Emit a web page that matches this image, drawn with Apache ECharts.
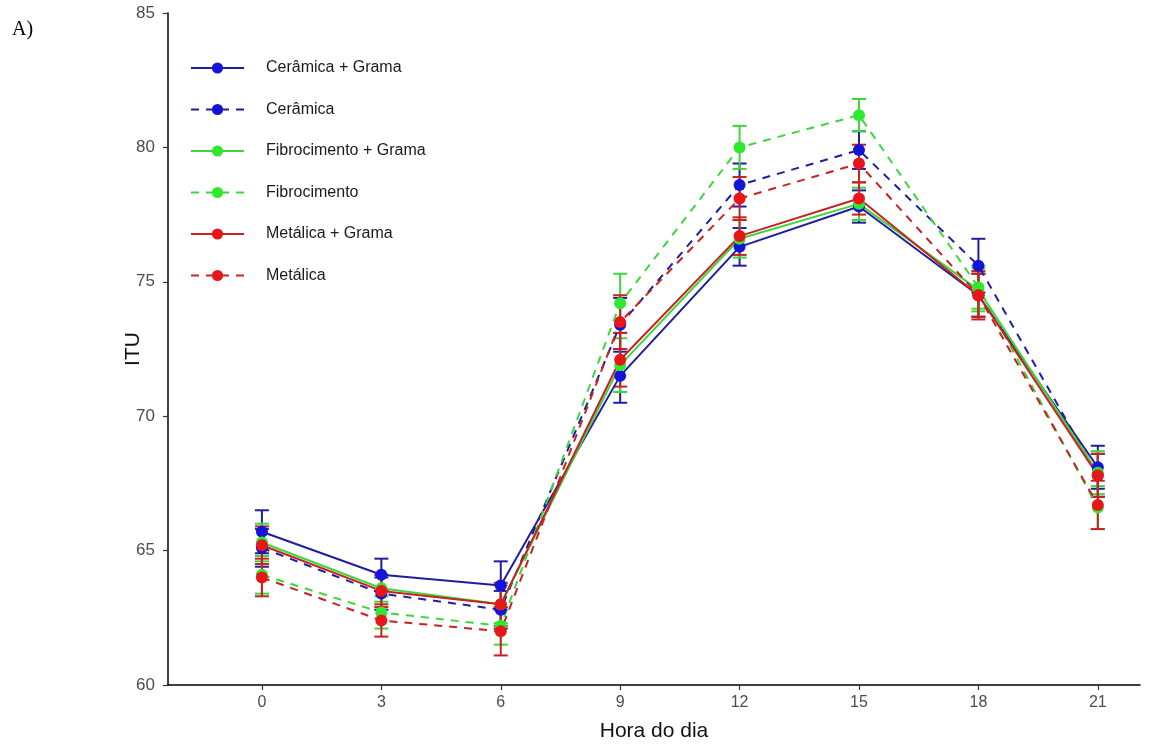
<!DOCTYPE html>
<html>
<head>
<meta charset="utf-8">
<script src="https://cdn.jsdelivr.net/npm/echarts@6/dist/echarts.min.js"></script>
<style>
html,body{margin:0;padding:0;background:#fff;}
#chart{width:1158px;height:747px;}
</style>
</head>
<body>
<div id="chart"></div>
<script>
const hours = [0, 3, 6, 9, 12, 15, 18, 21];
const xTicks = [0, 3, 6, 9, 12, 15, 18, 21];
const yTicks = [60, 65, 70, 75, 80, 85];

const names = ['Cerâmica + Grama', 'Cerâmica', 'Fibrocimento + Grama', 'Fibrocimento', 'Metálica + Grama', 'Metálica'];

const ceramicaGrama = [65.7, 64.1, 63.7, 71.5, 76.3, 77.8, 74.5, 68.1];
const ceramica      = [65.1, 63.4, 62.8, 73.4, 78.6, 79.9, 75.6, 67.8];
const fibroGrama    = [65.3, 63.6, 63.0, 71.9, 76.6, 77.9, 74.7, 67.9];
const fibro         = [64.1, 62.7, 62.2, 74.2, 80.0, 81.2, 74.8, 66.6];
const metalGrama    = [65.2, 63.5, 63.0, 72.1, 76.7, 78.1, 74.5, 67.8];
const metal         = [64.0, 62.4, 62.0, 73.5, 78.1, 79.4, 74.5, 66.7];

const errCeramicaGrama = [0.8, 0.6, 0.9, 1.0, 0.7, 0.6, 0.8, 0.8];
const errCeramica      = [0.7, 0.6, 0.7, 1.0, 0.8, 0.7, 1.0, 0.8];
const errFibroGrama    = [0.7, 0.5, 0.7, 1.0, 0.7, 0.6, 0.8, 0.8];
const errFibro         = [0.7, 0.6, 0.7, 1.1, 0.8, 0.6, 0.8, 0.8];
const errMetalGrama    = [0.7, 0.6, 0.8, 1.0, 0.7, 0.6, 0.8, 0.8];
const errMetal         = [0.7, 0.6, 0.9, 1.0, 0.8, 0.7, 0.9, 0.9];

const values = [ceramicaGrama, ceramica, fibroGrama, fibro, metalGrama, metal];
const errors = [errCeramicaGrama, errCeramica, errFibroGrama, errFibro, errMetalGrama, errMetal];
const lineColors = ['#1e1e9e', '#1e1e9e', '#3dd63d', '#3dd63d', '#c62222', '#c62222'];
const markColors = ['#1414d8', '#1414d8', '#2fe82f', '#2fe82f', '#e81616', '#e81616'];
const dashed = [false, true, false, true, false, true];

const chart = echarts.init(document.getElementById('chart'));
const series = [];
names.forEach((name, i) => {
  series.push({
    type: 'custom',
    name: name + '_err',
    data: hours.map((h, k) => [h, values[i][k] - errors[i][k], values[i][k] + errors[i][k]]),
    encode: {x: 0, y: [1, 2]},
    z: 2,
    silent: true,
    renderItem: function (params, api) {
      const x = api.value(0);
      const lo = api.coord([x, api.value(1)]);
      const hi = api.coord([x, api.value(2)]);
      const w = 7;
      const st = {stroke: lineColors[i], lineWidth: 2, fill: null};
      return {
        type: 'group',
        children: [
          {type: 'line', shape: {x1: lo[0], y1: lo[1], x2: hi[0], y2: hi[1]}, style: st},
          {type: 'line', shape: {x1: lo[0] - w, y1: lo[1], x2: lo[0] + w, y2: lo[1]}, style: st},
          {type: 'line', shape: {x1: hi[0] - w, y1: hi[1], x2: hi[0] + w, y2: hi[1]}, style: st}
        ]
      };
    }
  });
  series.push({
    type: 'line',
    name: name,
    data: hours.map((h, k) => [h, values[i][k]]),
    symbol: 'circle',
    symbolSize: 12,
    z: 3,
    lineStyle: {color: lineColors[i], width: 2, type: dashed[i] ? [8, 7] : 'solid'},
    itemStyle: {color: markColors[i], borderWidth: 0},
    emphasis: {disabled: true}
  });
});

chart.setOption({
  animation: false,
  backgroundColor: '#fff',
  textStyle: {fontFamily: 'Liberation Sans, Arial, sans-serif'},
  grid: {left: 168, right: 18, top: 13, bottom: 62, containLabel: false},
  legend: {
    data: names,
    orient: 'vertical',
    left: 185,
    top: 55,
    itemWidth: 53,
    itemHeight: 14,
    itemGap: 25.5,
    textStyle: {fontSize: 16, color: '#1a1a1a', padding: [0, 0, 0, 17]},
    selectedMode: false
  },
  xAxis: {
    type: 'value',
    min: -2.36,
    max: 22.06,
    name: 'Hora do dia',
    nameLocation: 'middle',
    nameGap: 36,
    nameMoveOverlap: false,
    nameTextStyle: {fontSize: 21, color: '#111'},
    axisLine: {show: true, onZero: false, lineStyle: {color: '#000', width: 1.5}},
    axisTick: {show: true, customValues: xTicks, length: 5, lineStyle: {color: '#333', width: 1.2}},
    axisLabel: {customValues: xTicks, fontSize: 16, color: '#4d4d4d', margin: 10},
    splitLine: {show: false}
  },
  yAxis: {
    type: 'value',
    min: 60,
    max: 85,
    interval: 5,
    name: 'ITU',
    nameLocation: 'middle',
    nameGap: 24,
    nameMoveOverlap: false,
    nameTextStyle: {fontSize: 21, color: '#111'},
    axisLine: {show: true, onZero: false, lineStyle: {color: '#000', width: 1.5}},
    axisTick: {show: true, length: 5, lineStyle: {color: '#333', width: 1.2}},
    axisLabel: {fontSize: 17, color: '#4d4d4d', margin: 13},
    splitLine: {show: false}
  },
  graphic: [{
    type: 'text',
    left: 12,
    top: 20,
    style: {text: 'A)', fontSize: 20, fontFamily: 'Liberation Serif, Times New Roman, serif', fill: '#000'}
  }],
  series: series
});
</script>
</body>
</html>
